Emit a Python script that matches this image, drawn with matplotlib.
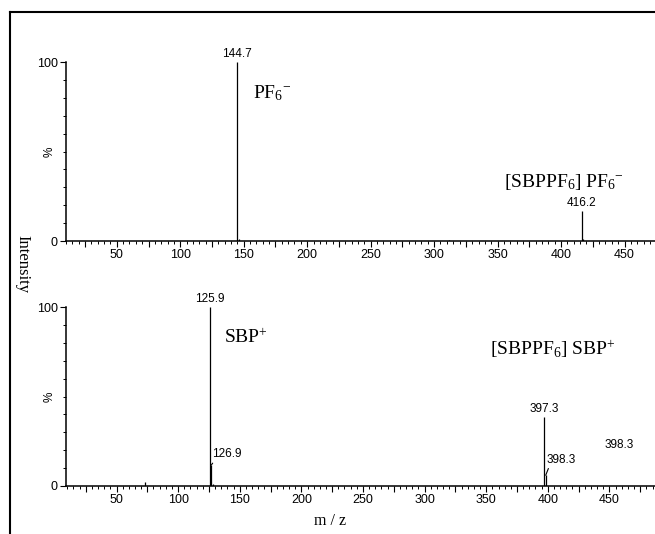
import matplotlib
matplotlib.use("Agg")
import matplotlib.pyplot as plt
from matplotlib.lines import Line2D
from matplotlib.ticker import MultipleLocator, FuncFormatter

plt.rcParams['font.family'] = ['Liberation Sans', 'DejaVu Sans']
plt.rcParams['mathtext.fontset'] = 'custom'
plt.rcParams['mathtext.rm'] = 'Liberation Serif'
plt.rcParams['mathtext.it'] = 'Liberation Serif:italic'

# negative-ion spectrum
neg_mz = [144.7, 146.0, 312.0, 416.2, 417.5]
neg_int = [100.0, 1.0, 0.8, 17.0, 1.0]
neg_labels = {144.7: '144.7', 416.2: '416.2'}

# positive-ion spectrum
pos_mz = [73.0, 125.9, 126.9, 128.0, 397.3, 398.3]
pos_int = [2.5, 100.0, 11.7, 1.0, 38.5, 6.0]

# each panel was exported with its own m/z span
neg_xlim = (10, 474)
pos_xlim = (9, 487)

fig = plt.figure(figsize=(6.55, 5.34), dpi=100)

# frame lines (figure is a crop of a larger bordered picture)
fig.add_artist(Line2D([10/655, 1.0], [1 - 12/534, 1 - 12/534], color='black', lw=1.5))
fig.add_artist(Line2D([10/655, 10/655], [0, 1 - 12/534], color='black', lw=1.5))

ax1 = fig.add_axes([66/655, 1 - 241/534, 1 - 66/655, 179/534])
ax2 = fig.add_axes([66/655, 1 - 486/534, 1 - 66/655, 179/534])

fmt = FuncFormatter(lambda v, p: f'{int(v)}' if v % 50 == 0 else '')

for ax, lim in ((ax1, neg_xlim), (ax2, pos_xlim)):
    ax.set_xlim(*lim)
    ax.set_ylim(0, 100)
    ax.spines['top'].set_visible(False)
    ax.spines['right'].set_visible(False)
    ax.spines['left'].set_linewidth(1.1)
    ax.spines['bottom'].set_linewidth(1.1)
    ax.xaxis.set_major_locator(MultipleLocator(25))
    ax.xaxis.set_major_formatter(fmt)
    ax.xaxis.set_minor_locator(MultipleLocator(5))
    ax.yaxis.set_major_locator(MultipleLocator(100))
    ax.yaxis.set_minor_locator(MultipleLocator(10))
    ax.tick_params(axis='both', which='major', direction='out', length=4.5, width=0.8,
                   labelsize=9, pad=1.5)
    ax.tick_params(axis='both', which='minor', direction='out', length=2.2, width=0.7)
    ax.text(-0.027, 0.5, '%', rotation=90, ha='center', va='center', fontsize=8.5,
            transform=ax.transAxes)
    ax.patch.set_alpha(0)

ax1.vlines(neg_mz, 0, neg_int, color='black', lw=0.9)
for mz, t in neg_labels.items():
    h = neg_int[neg_mz.index(mz)]
    ax1.text(mz, h + 1, t, ha='center', va='bottom', fontsize=8.5, clip_on=False)
ax1.text(157, 80, r'PF$_6$$^{\mathregular{-}}$', fontsize=14, family='Liberation Serif')
ax1.text(355, 30, r'[SBPPF$_6$] PF$_6$$^{\mathregular{-}}$', fontsize=14,
         family='Liberation Serif')

ax2.vlines(pos_mz, 0, pos_int, color='black', lw=0.9)
ax2.text(125.9, 101, '125.9', ha='center', va='bottom', fontsize=8.5, clip_on=False)
ax2.annotate('126.9', xy=(126.9, pos_int[2]), xytext=(127.3, 16), fontsize=8.5,
             arrowprops=dict(arrowstyle='-', lw=0.8, shrinkA=0, shrinkB=0,
                             relpos=(0.1, 0)))
ax2.text(397.3, 39.5, '397.3', ha='center', va='bottom', fontsize=8.5)
ax2.annotate('398.3', xy=(398.3, pos_int[5]), xytext=(399, 13), fontsize=8.5,
             arrowprops=dict(arrowstyle='-', lw=0.8, shrinkA=0, shrinkB=0,
                             relpos=(0.1, 0)))
ax2.text(446, 21, '398.3', fontsize=8.5)
ax2.text(137, 80, r'SBP$^{+}$', fontsize=14, family='Liberation Serif')
ax2.text(353, 73, r'[SBPPF$_6$] SBP$^{+}$', fontsize=14, family='Liberation Serif')

fig.text(22/655, 1 - 264/534, 'Intensity', rotation=-90, ha='center', va='center',
         fontsize=12, family='Liberation Serif')
fig.text(330/655, 1 - 521/534, 'm / z', ha='center', va='center',
         fontsize=11.5, family='Liberation Serif')

fig.savefig('out.png', dpi=100)
